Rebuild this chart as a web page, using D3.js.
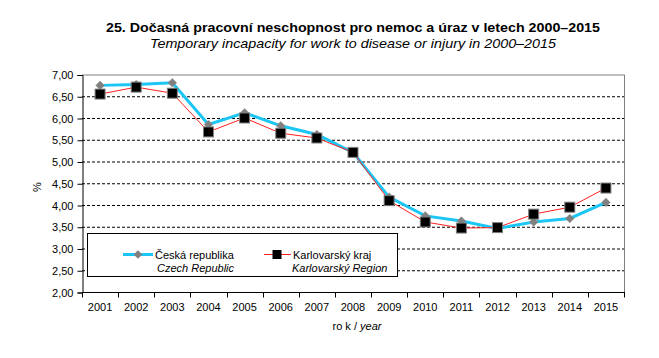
<!DOCTYPE html>
<html><head><meta charset="utf-8">
<script src="https://cdn.jsdelivr.net/npm/d3@7"></script>
<style>body{margin:0;background:#fff}text{font-family:"Liberation Sans",Arial,sans-serif}</style>
</head><body>
<svg id="c" width="659" height="358"></svg>
<script>
const years = ["2001","2002","2003","2004","2005","2006","2007","2008","2009","2010","2011","2012","2013","2014","2015"];
const czechRepublic = [6.75,6.77,6.81,5.85,6.12,5.82,5.62,5.21,4.18,3.75,3.63,3.46,3.61,3.69,4.06];
const karlovarsky = [6.55,6.71,6.57,5.68,6.00,5.65,5.54,5.21,4.10,3.61,3.47,3.48,3.79,3.95,4.39];
const yTicks = [2,2.5,3,3.5,4,4.5,5,5.5,6,6.5,7];

const svg = d3.select("#c");
const L=82, R=624, T=74.5, B=292;
const x = d3.scaleBand().domain(years).range([L,R]);
const y = d3.scaleLinear().domain([2,7]).range([B,T]);
const fmt = v => d3.format(".2f")(v).replace(".",",");

// title
svg.append("text").attr("x",353).attr("y",31.5).attr("text-anchor","middle")
  .attr("font-weight","bold").attr("font-size",13).attr("textLength",494).attr("lengthAdjust","spacingAndGlyphs")
  .text("25. Dočasná pracovní neschopnost pro nemoc a úraz v letech 2000–2015");
svg.append("text").attr("x",353).attr("y",47.5).attr("text-anchor","middle")
  .attr("font-style","italic").attr("font-size",13).attr("textLength",406).attr("lengthAdjust","spacingAndGlyphs")
  .text("Temporary incapacity for work to disease or injury in 2000–2015");

// gridlines
svg.append("g").selectAll("line").data(yTicks.filter(d=>d>2&&d<7)).join("line")
  .attr("x1",L).attr("x2",R).attr("y1",d=>y(d)+0.5).attr("y2",d=>y(d)+0.5)
  .attr("stroke","#000").attr("stroke-dasharray","3,2");
// top and right border
svg.append("line").attr("x1",L).attr("x2",R).attr("y1",y(7)+0.5).attr("y2",y(7)+0.5).attr("stroke","#808080");
svg.append("line").attr("x1",R+0.5).attr("x2",R+0.5).attr("y1",T).attr("y2",B).attr("stroke","#808080");

// y axis
const yAxis = d3.axisLeft(y).tickValues(yTicks).tickFormat(fmt).tickSize(5).tickPadding(4);
const gy = svg.append("g").attr("transform",`translate(${L+0.5},0.5)`).call(yAxis);
gy.select(".domain").attr("stroke","#000");
gy.selectAll("text").attr("font-size",11).attr("fill","#000").attr("font-family","Liberation Sans, Arial");

// x axis
const gx = svg.append("g").attr("transform",`translate(0,${B+0.5})`);
gx.append("line").attr("x1",L).attr("x2",R+1).attr("stroke","#000");
const bounds = d3.range(years.length+1).map(i=>L+i*x.bandwidth());
gx.selectAll("line.t").data(bounds).join("line").attr("class","t")
  .attr("x1",d=>Math.round(d)+0.5).attr("x2",d=>Math.round(d)+0.5).attr("y1",0).attr("y2",5).attr("stroke","#000");
gx.selectAll("text").data(years).join("text")
  .attr("x",d=>x(d)+x.bandwidth()/2).attr("y",18).attr("text-anchor","middle")
  .attr("font-size",11).text(d=>d);

// axis titles
svg.append("text").attr("transform","translate(41,187) rotate(-90)").attr("text-anchor","middle")
  .attr("font-size",11).text("%");
const xt = svg.append("text").attr("x",357).attr("y",330).attr("text-anchor","middle").attr("font-size",11);
xt.append("tspan").text("ro k / ");
xt.append("tspan").attr("font-style","italic").text("year");

// series
const cx = d => x(d)+x.bandwidth()/2;
const line = d3.line().x(d=>cx(d[0])).y(d=>y(d[1]));
const crData = years.map((yr,i)=>[yr,czechRepublic[i]]);
const kvData = years.map((yr,i)=>[yr,karlovarsky[i]]);

svg.append("path").datum(crData).attr("d",line).attr("fill","none").attr("stroke","#1CC6F4").attr("stroke-width",3);
svg.append("path").datum(kvData).attr("d",line).attr("fill","none").attr("stroke","#FF2020").attr("stroke-width",1);

const diamond = d3.symbol().type(d3.symbolDiamond2).size(60);
svg.append("g").selectAll("path").data(crData).join("path")
  .attr("transform",d=>`translate(${cx(d[0])},${y(d[1])}) rotate(0)`).attr("d",d3.symbol().type(d3.symbolSquare).size(38)())
  .attr("transform",d=>`translate(${cx(d[0])},${y(d[1])}) rotate(45)`)
  .attr("fill","#808080").attr("stroke","#909090").attr("stroke-width",0.5);
svg.append("g").selectAll("rect").data(kvData).join("rect")
  .attr("x",d=>cx(d[0])-5).attr("y",d=>y(d[1])-5).attr("width",10).attr("height",10)
  .attr("fill","#000").attr("stroke","#808080").attr("stroke-width",1);

// legend
const lg = svg.append("g");
lg.append("rect").attr("x",87.5).attr("y",233.5).attr("width",310).attr("height",43).attr("fill","#fff").attr("stroke","#000");
lg.append("line").attr("x1",123).attr("x2",153).attr("y1",254.5).attr("y2",254.5).attr("stroke","#1CC6F4").attr("stroke-width",3);
lg.append("path").attr("d",d3.symbol().type(d3.symbolSquare).size(38)()).attr("transform","translate(138,254.5) rotate(45)").attr("fill","#808080");
lg.append("text").attr("x",155).attr("y",258.5).attr("font-size",11).text("Česká republika");
lg.append("text").attr("x",157).attr("y",272).attr("font-size",11).attr("font-style","italic").text("Czech Republic");
lg.append("line").attr("x1",264).attr("x2",291).attr("y1",254.5).attr("y2",254.5).attr("stroke","#FF2020").attr("stroke-width",1);
lg.append("rect").attr("x",272.5).attr("y",250).attr("width",9).attr("height",9).attr("fill","#000");
lg.append("text").attr("x",293).attr("y",258.5).attr("font-size",11).text("Karlovarský kraj");
lg.append("text").attr("x",292).attr("y",271.5).attr("font-size",11).attr("font-style","italic").text("Karlovarský Region");
</script>
</body></html>
